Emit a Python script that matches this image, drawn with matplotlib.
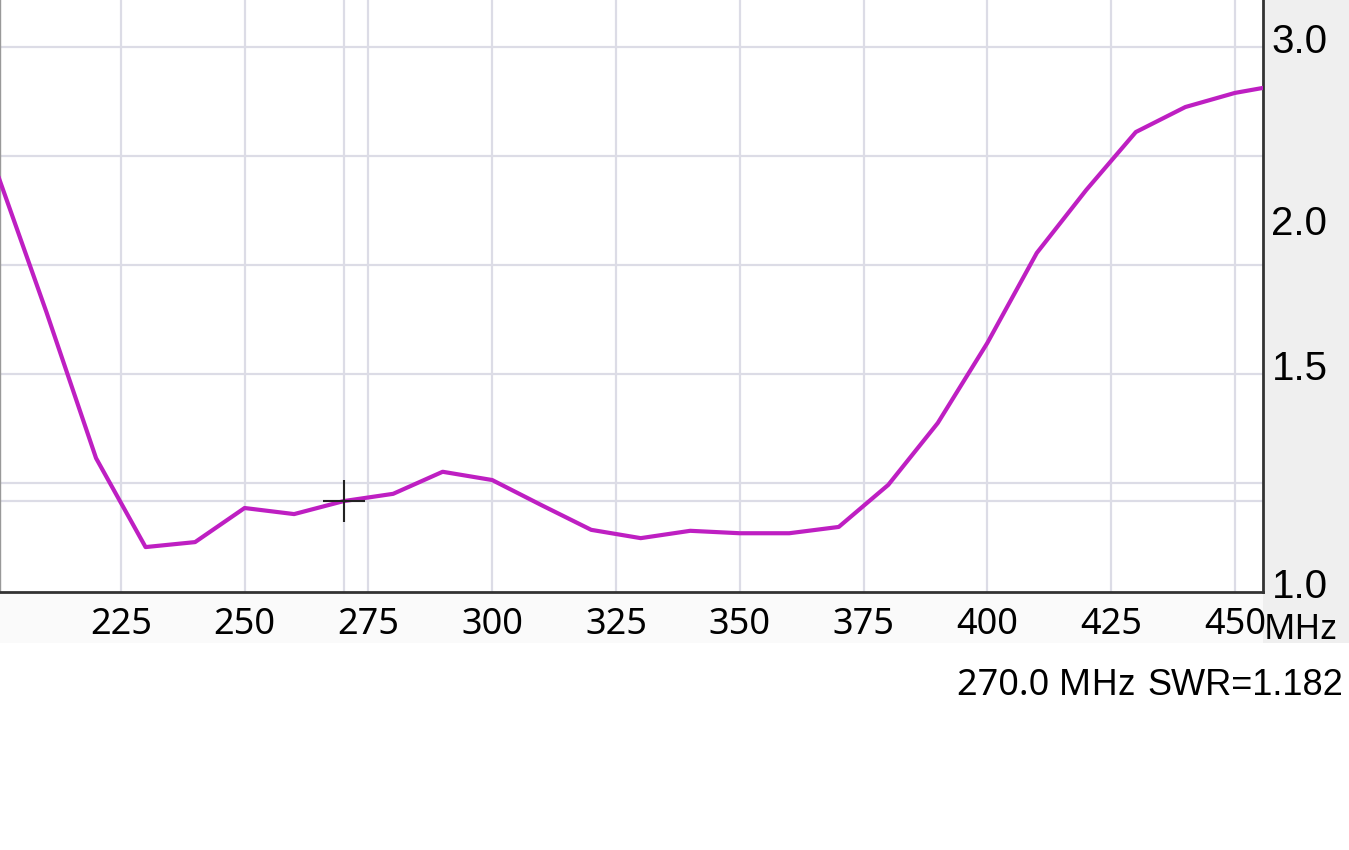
import matplotlib
matplotlib.use("Agg")
import matplotlib.pyplot as plt
from matplotlib.patches import Rectangle
from matplotlib.transforms import ScaledTranslation

# SWR sweep, one point every 10 MHz
freq_mhz = [200, 210, 220, 230, 240, 250, 260, 270, 280, 290, 300, 310, 320, 330,
            340, 350, 360, 370, 380, 390, 400, 410, 420, 430, 440, 450, 460]
swr = [2.25, 1.69, 1.28, 1.086, 1.096, 1.167, 1.154, 1.182, 1.198, 1.248, 1.229, 1.173,
       1.121, 1.104, 1.119, 1.114, 1.114, 1.127, 1.218, 1.367, 1.592, 1.903, 2.169,
       2.46, 2.603, 2.689, 2.745]

# cursor
cursor_f = 270.0
cursor_swr = 1.182

x_ticks = [225, 250, 275, 300, 325, 350, 375, 400, 425, 450]
y_label_ticks = [1.0, 1.5, 2.0, 3.0]
y_labels = ["1.0", "1.5", "2.0", "3.0"]
# grid is drawn at reflection coefficient 0.1 ... 0.5
gamma_grid = [0.1, 0.2, 0.3, 0.4, 0.5]

grid_col = "#dcdce6"
line_col = "#be1fc2"


def to_gamma(s):
    return (s - 1.0) / (s + 1.0)


def to_swr(g):
    return (1.0 + g) / (1.0 - g)


fig = plt.figure(figsize=(13.49, 8.5), dpi=100)
fig.patch.set_facecolor("white")

# grey panel on the right, light strip under the plot (behind the axes)
fig.patches.append(Rectangle((0.9363, 0.2435), 0.0637, 0.7565, transform=fig.transFigure,
                             facecolor="#efefef", edgecolor="none", zorder=-2))
fig.patches.append(Rectangle((0, 0.2435), 0.9363, 0.06, transform=fig.transFigure,
                             facecolor="#fafafa", edgecolor="none", zorder=-2))

ax = fig.add_axes([0.0, 0.3035, 0.9363, 0.6965])
ax.set_yscale("function", functions=(to_gamma, to_swr))
ax.set_xlim(200.6, 455.7)
ax.set_ylim(1.0, to_swr(0.5431))

# grid
for g in gamma_grid:
    ax.axhline(to_swr(g), color=grid_col, lw=1.6, zorder=1)
for xv in x_ticks:
    ax.axvline(xv, color=grid_col, lw=1.6, zorder=1)
# cursor lines
ax.axhline(cursor_swr, color=grid_col, lw=1.6, zorder=1)
ax.axvline(cursor_f, color=grid_col, lw=1.6, zorder=1)

ax.plot(freq_mhz, swr, color=line_col, lw=3.0, zorder=3, clip_on=True)
ax.plot([cursor_f], [cursor_swr], marker="+", ms=30, mew=1.5, color="#222222", zorder=4)

ax.set_xticks(x_ticks)
ax.set_xticklabels([str(v) for v in x_ticks], fontsize=26, family="Noto Sans")
ax.tick_params(axis="x", length=0, pad=11)

ax.yaxis.tick_right()
ax.set_yticks(y_label_ticks)
ax.set_yticks([], minor=True)
ax.set_yticklabels(y_labels, fontsize=29, family="Liberation Sans")
ax.tick_params(axis="y", length=0, pad=6)
for lab in ax.get_yticklabels():
    lab.set_transform(lab.get_transform() + ScaledTranslation(0, 0.09, fig.dpi_scale_trans))

ax.spines["top"].set_visible(False)
ax.spines["left"].set_color("#999999")
ax.spines["left"].set_linewidth(1.0)
ax.spines["bottom"].set_color("#333333")
ax.spines["bottom"].set_linewidth(2.0)
ax.spines["right"].set_color("#333333")
ax.spines["right"].set_linewidth(2.0)

fig.text(0.9367, 0.259, "MHz", fontsize=25, family="Noto Sans", va="center", ha="left")
fig.text(0.841, 0.193, "270.0 MHz", fontsize=26, family="Noto Sans", va="center", ha="right")
fig.text(0.8505, 0.193, "SWR=1.182", fontsize=26, family="Liberation Sans", va="center", ha="left")

plt.savefig("out.png", dpi=100)
